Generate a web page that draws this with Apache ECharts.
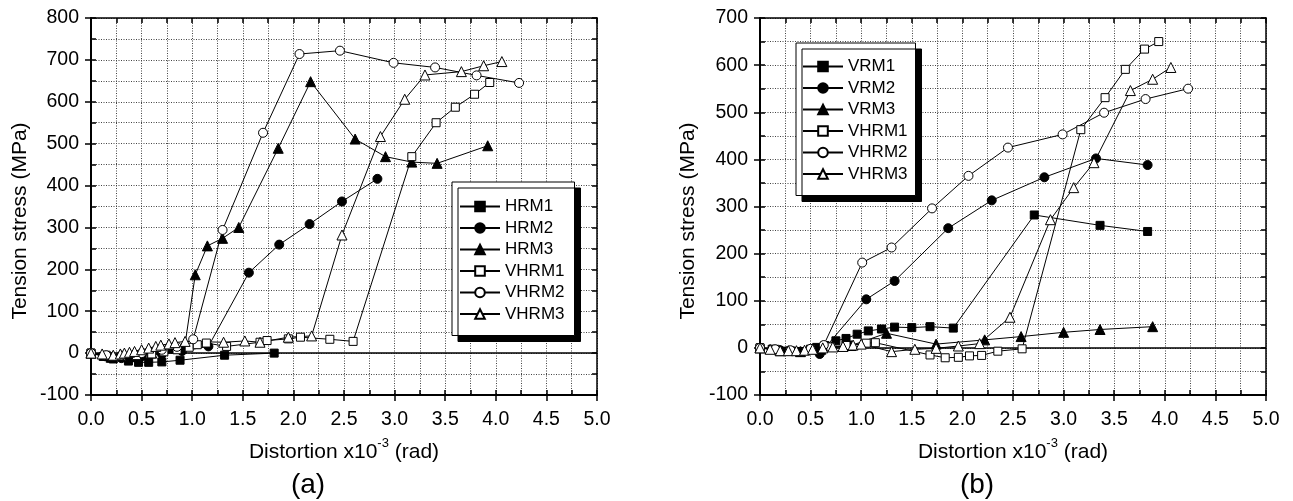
<!DOCTYPE html>
<html>
<head>
<meta charset="utf-8">
<script src="https://cdn.jsdelivr.net/npm/echarts@6/dist/echarts.min.js"></script>
<style>
html, body { margin: 0; padding: 0; background: #fff; }
#chart { width: 1293px; height: 501px; }
</style>
</head>
<body>
<div id="chart"></div>
<script>
// Axis ranges
const xRange = [0, 5];
const yRangeA = [-100, 800];
const yRangeB = [-100, 700];

// Panel (a): distortion (x10^-3 rad) vs tension stress (MPa)
const namesA = ['HRM1', 'HRM2', 'HRM3', 'VHRM1', 'VHRM2', 'VHRM3'];
const hrm1 = [[0,0],[0.12,-8],[0.22,-14],[0.37,-19],[0.47,-22],[0.57,-22],[0.70,-21],[0.88,-17],[1.32,-5],[1.81,0]];
const hrm2 = [[0,0],[0.15,-8],[0.30,-12],[0.50,-8],[0.70,-2],[0.90,5],[1.16,16],[1.56,192],[1.86,259],[2.16,308],[2.48,362],[2.83,416]];
const hrm3 = [[0,0],[0.20,-10],[0.40,-8],[0.60,0],[0.80,12],[0.93,22],[1.03,187],[1.15,256],[1.30,274],[1.46,300],[1.85,489],[2.17,648],[2.61,511],[2.91,469],[3.17,456],[3.42,453],[3.92,495]];
const vhrm1A = [[0,0],[0.15,-5],[0.30,-8],[0.45,-6],[0.60,-2],[0.72,3],[0.85,8],[0.97,14],[1.05,20],[1.14,24],[1.34,16],[1.67,26],[1.74,30],[1.95,34],[2.07,38],[2.36,33],[2.59,28],[3.17,469],[3.41,550],[3.60,587],[3.79,618],[3.94,646]];
const vhrm2A = [[0,0],[0.15,-5],[0.30,-6],[0.50,0],[0.70,8],[0.85,15],[1.01,33],[1.30,294],[1.70,526],[2.06,714],[2.46,722],[2.99,693],[3.40,682],[3.81,663],[4.23,645]];
const vhrm3A = [[0,0],[0.11,-2],[0.22,-5],[0.29,-2],[0.33,0],[0.38,2],[0.43,4],[0.50,8],[0.57,12],[0.64,16],[0.69,19],[0.77,22],[0.83,25],[0.93,28],[1.31,26],[1.52,29],[1.67,26],[1.95,38],[2.18,41],[2.48,282],[2.86,517],[3.10,606],[3.30,664],[3.66,672],[3.88,686],[4.06,696]];

// Panel (b)
const namesB = ['VRM1', 'VRM2', 'VRM3', 'VHRM1', 'VHRM2', 'VHRM3'];
const vrm1 = [[0,0],[0.12,-3],[0.25,-7],[0.40,-8],[0.50,-3],[0.56,1],[0.64,5],[0.75,15],[0.85,20],[0.96,29],[1.07,36],[1.20,40],[1.33,44],[1.50,43],[1.68,45],[1.91,42],[2.71,282],[3.36,260],[3.83,247]];
const vrm2 = [[0,0],[0.20,-5],[0.40,-8],[0.59,-13],[1.05,103],[1.33,142],[1.86,254],[2.29,313],[2.81,362],[3.32,402],[3.83,388]];
const vrm3 = [[0,0],[0.20,-6],[0.40,-8],[0.60,-3],[0.90,5],[1.25,31],[1.74,8],[2.22,17],[2.58,24],[3.00,33],[3.36,39],[3.88,45]];
const vhrm1B = [[0,0],[0.15,-3],[0.30,-6],[0.50,-3],[0.70,2],[0.85,5],[1.05,10],[1.14,11],[1.68,-15],[1.83,-21],[1.96,-20],[2.07,-17],[2.19,-16],[2.35,-7],[2.59,-2],[3.17,463],[3.41,531],[3.61,591],[3.80,634],[3.94,650]];
const vhrm2B = [[0,0],[0.15,-3],[0.30,-5],[0.50,-2],[0.63,6],[1.01,181],[1.30,213],[1.70,296],[2.06,365],[2.45,425],[2.99,453],[3.40,499],[3.81,528],[4.23,550]];
const vhrm3B = [[0,0],[0.10,-3],[0.20,-6],[0.28,-6],[0.36,-6],[0.44,-5],[0.52,-3],[0.62,0],[0.72,2],[0.82,3],[0.92,6],[1.00,8],[1.30,-8],[1.53,-3],[1.74,-1],[1.96,4],[2.17,9],[2.47,65],[2.87,272],[3.10,340],[3.30,393],[3.66,546],[3.88,570],[4.06,595]];

const FONT = '"Liberation Sans", Arial, Helvetica, sans-serif';

// Marker style per series slot: filled square, filled circle, filled triangle, then open ones
const markers = [
  { symbol: 'rect', size: 8, fill: '#000' },
  { symbol: 'circle', size: 9, fill: '#000' },
  { symbol: 'triangle', size: 10, fill: '#000' },
  { symbol: 'rect', size: 8, fill: '#fff' },
  { symbol: 'circle', size: 9, fill: '#fff' },
  { symbol: 'triangle', size: 10, fill: '#fff' }
];

const grids = [
  { left: 91, top: 18, width: 506, height: 377 },
  { left: 760, top: 18, width: 506, height: 377 }
];

const gridLine = { show: true, lineStyle: { color: '#444', width: 1, type: [1, 1.5] } };

function xAxesFor(gi) {
  return [
    { // labelled bottom axis, major ticks outward
      gridIndex: gi, type: 'value', position: 'bottom', min: xRange[0], max: xRange[1], interval: 0.5,
      axisLine: { show: true, onZero: false, lineStyle: { color: '#000', width: 2 } },
      axisTick: { show: true, inside: false, length: 6, lineStyle: { color: '#000', width: 1.5 } },
      axisLabel: { show: true, color: '#000', fontSize: 19.5, fontFamily: FONT, margin: 15, formatter: v => v.toFixed(1) },
      splitLine: { show: false },
      name: 'Distortion x10{sup|-3} (rad)', nameLocation: 'middle', nameGap: 42,
      nameTextStyle: {
        color: '#000', fontSize: 21, fontFamily: FONT, lineHeight: 30,
        rich: { sup: { fontSize: 13, lineHeight: 13, fontFamily: FONT, color: '#000', verticalAlign: 'top' } }
      }
    },
    { // frame top with inward ticks and vertical dotted grid
      gridIndex: gi, type: 'value', position: 'top', min: xRange[0], max: xRange[1], interval: 0.25,
      axisLine: { show: true, onZero: false, lineStyle: { color: '#000', width: 1.5 } },
      axisTick: { show: true, inside: true, length: 5, lineStyle: { color: '#000', width: 1.5 } },
      axisLabel: { show: false },
      splitLine: gridLine
    },
    { // inward minor ticks on bottom edge
      gridIndex: gi, type: 'value', position: 'bottom', min: xRange[0], max: xRange[1], interval: 0.25,
      axisLine: { show: false, onZero: false },
      axisTick: { show: true, inside: true, length: 5, lineStyle: { color: '#000', width: 1.5 } },
      axisLabel: { show: false },
      splitLine: { show: false }
    }
  ];
}

function yAxesFor(gi, range) {
  return [
    {
      gridIndex: gi, type: 'value', position: 'left', min: range[0], max: range[1], interval: 100,
      axisLine: { show: true, onZero: false, lineStyle: { color: '#000', width: 2 } },
      axisTick: { show: true, inside: false, length: 6, lineStyle: { color: '#000', width: 1.5 } },
      axisLabel: { show: true, color: '#000', fontSize: 19.5, fontFamily: FONT, margin: 12 },
      splitLine: { show: false }
    },
    {
      gridIndex: gi, type: 'value', position: 'right', min: range[0], max: range[1], interval: 50,
      axisLine: { show: true, onZero: false, lineStyle: { color: '#000', width: 1.5 } },
      axisTick: { show: true, inside: true, length: 5, lineStyle: { color: '#000', width: 1.5 } },
      axisLabel: { show: false },
      splitLine: gridLine
    },
    {
      gridIndex: gi, type: 'value', position: 'left', min: range[0], max: range[1], interval: 50,
      axisLine: { show: false, onZero: false },
      axisTick: { show: true, inside: true, length: 5, lineStyle: { color: '#000', width: 1.5 } },
      axisLabel: { show: false },
      splitLine: { show: false }
    }
  ];
}

function seriesFor(gi, names, datasets) {
  return datasets.map((data, i) => {
    const m = markers[i];
    const s = {
      name: names[i], type: 'line', xAxisIndex: gi * 3, yAxisIndex: gi * 3,
      data: data, symbol: m.symbol, symbolSize: m.size, showAllSymbol: true,
      lineStyle: { color: '#000', width: 1 },
      itemStyle: { color: m.fill, borderColor: '#000', borderWidth: 1 },
      emphasis: { disabled: true }, z: 3
    };
    if (i === 0) {
      s.markLine = {
        silent: true, symbol: 'none', label: { show: false },
        lineStyle: { color: '#000', width: 1.5, type: 'solid' },
        data: [{ yAxis: 0 }], z: 2
      };
    }
    return s;
  });
}

function legendFor(names, left, top, padding) {
  return {
    data: names, orient: 'vertical', left: left, top: top, selectedMode: false,
    itemWidth: 40, itemHeight: 12, itemGap: 4.5, padding: padding,
    textStyle: { color: '#000', fontSize: 17, fontFamily: FONT },
    backgroundColor: '#fff', borderColor: '#000', borderWidth: 1,
    shadowColor: '#000', shadowBlur: 0, shadowOffsetX: 6, shadowOffsetY: 6
  };
}

const titleStyle = { fontFamily: FONT, fill: '#000', textAlign: 'center', textVerticalAlign: 'middle', align: 'center', verticalAlign: 'middle' };

const option = {
  animation: false,
  backgroundColor: '#fff',
  grid: grids,
  xAxis: xAxesFor(0).concat(xAxesFor(1)),
  yAxis: yAxesFor(0, yRangeA).concat(yAxesFor(1, yRangeB)),
  legend: [
    legendFor(namesA, 452, 182, [16, 10, 13, 7]),
    legendFor(namesB, 796, 43, [15, 8, 13, 6])
  ],
  series: seriesFor(0, namesA, [hrm1, hrm2, hrm3, vhrm1A, vhrm2A, vhrm3A])
    .concat(seriesFor(1, namesB, [vrm1, vrm2, vrm3, vhrm1B, vhrm2B, vhrm3B])),
  graphic: [
    { type: 'text', x: 20, y: 221, rotation: Math.PI / 2,
      style: Object.assign({ text: 'Tension stress (MPa)', fontSize: 21 }, titleStyle) },
    { type: 'text', x: 688, y: 221, rotation: Math.PI / 2,
      style: Object.assign({ text: 'Tension stress (MPa)', fontSize: 21 }, titleStyle) },
    { type: 'text', x: 308, y: 485,
      style: Object.assign({ text: '(a)', fontSize: 28 }, titleStyle) },
    { type: 'text', x: 977, y: 485,
      style: Object.assign({ text: '(b)', fontSize: 28 }, titleStyle) }
  ]
};

const chart = echarts.init(document.getElementById('chart'), null, { renderer: 'canvas' });
chart.setOption(option);
</script>
</body>
</html>
